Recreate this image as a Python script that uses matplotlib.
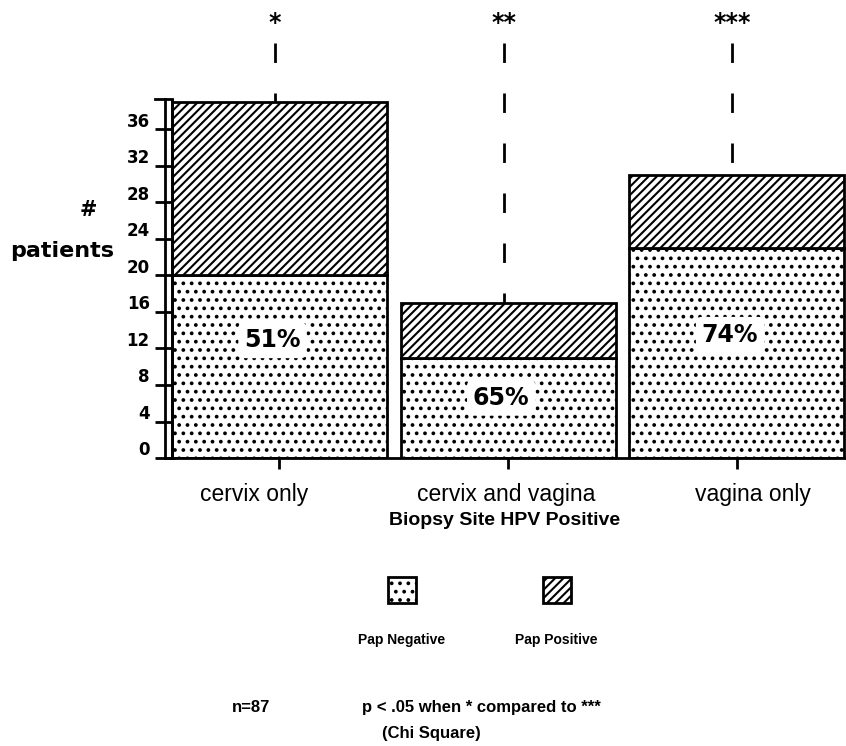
import matplotlib
matplotlib.use("Agg")
import matplotlib.pyplot as plt
from matplotlib.patches import Rectangle
from matplotlib.transforms import ScaledTranslation

# ---- data ----
sites = ["cervix only", "cervix and vagina", "vagina only"]
pap_negative = [20, 11, 23]
pap_positive = [19, 6, 8]
pct_labels = ["51%", "65%", "74%"]
stars = ["*", "**", "***"]
yticks = [0, 4, 8, 12, 16, 20, 24, 28, 32, 36]

plt.rcParams["hatch.linewidth"] = 1.5
plt.rcParams["hatch.color"] = "black"

fig = plt.figure(figsize=(8.46, 7.46), dpi=100)
ax = fig.add_axes([0.195, 0.386, 0.805, 0.481])

x = list(range(len(sites)))
w = 0.94
ax.bar(x, pap_negative, width=w, color="white", edgecolor="black",
       hatch="..", linewidth=2.0, zorder=2)
ax.bar(x, pap_positive, width=w, bottom=pap_negative, color="white",
       edgecolor="black", hatch="////", linewidth=2.0, zorder=2)

ax.set_xlim(-0.5, 2.477)
ax.set_ylim(0, 39.3)

# percentage labels inside the negative part
pct_y = [12.9, 6.6, 13.5]
for xi, lab, yy in zip(x, pct_labels, pct_y):
    ax.text(xi - 0.03, yy, lab, ha="center", va="center", fontsize=17,
            fontweight="bold", family="DejaVu Sans", zorder=4,
            bbox=dict(boxstyle="round,pad=0.25", fc="white", ec="none"))

# dashed lines from the stars down to each bar
for xi, pn, pp, s in zip(x, pap_negative, pap_positive, stars):
    top = pn + pp
    ax.plot([xi - 0.02, xi - 0.02], [45.5, top], color="black", lw=2.0,
            linestyle=(0, (7, 11)), clip_on=False, zorder=3)
    ax.text(xi - 0.02, 47.6, s, ha="center", va="center", fontsize=17,
            fontweight="bold", family="DejaVu Sans")

# axes styling: double left line, bottom baseline
for sp in ["top", "right"]:
    ax.spines[sp].set_visible(False)
ax.spines["left"].set_linewidth(2.0)
ax.spines["bottom"].set_linewidth(2.0)
ax.axvline(-0.47, color="black", lw=2.0, zorder=3)
ax.plot([-0.543, -0.47], [39.3, 39.3], color="black", lw=2.0, clip_on=False)

ax.set_yticks(yticks)
ax.set_yticklabels([str(t) for t in yticks], fontsize=12, fontweight="bold",
                   family="DejaVu Sans")
ax.tick_params(axis="y", direction="inout", length=14, width=2.0, pad=4)
off = ScaledTranslation(0, 7 / 72, fig.dpi_scale_trans)
for lab in ax.get_yticklabels():
    lab.set_transform(lab.get_transform() + off)

ax.set_xticks(x)
ax.set_xticklabels(sites, fontsize=16.5, family="Liberation Sans")
ax.tick_params(axis="x", direction="inout", length=16, width=2.0, pad=10)
# the labels in the original are not centred on their ticks
shifts = [-18, -1.5, 11.5]  # points
for lab, dx in zip(ax.get_xticklabels(), shifts):
    lab.set_transform(lab.get_transform() +
                      ScaledTranslation(dx / 72, 0, fig.dpi_scale_trans))

fig.text(0.104, 0.718, "#", ha="center", va="center", fontsize=15,
         fontweight="bold", family="DejaVu Sans")
fig.text(0.074, 0.664, "patients", ha="center", va="center", fontsize=16,
         fontweight="bold", family="DejaVu Sans")

fig.text(0.597, 0.302, "Biopsy Site HPV Positive", ha="center", va="center",
         fontsize=14, fontweight="bold", family="Liberation Sans")

# legend boxes
legend_items = [("Pap Negative", ".."), ("Pap Positive", "////")]
legend_x = [0.475, 0.658]
for (name, h), lx in zip(legend_items, legend_x):
    fig.patches.append(Rectangle((lx - 0.0165, 0.192), 0.033, 0.035,
                                 transform=fig.transFigure, facecolor="white",
                                 edgecolor="black", hatch=h, linewidth=2.0))
    fig.text(lx, 0.142, name, ha="center", va="center", fontsize=10,
             fontweight="bold", family="Liberation Sans")

fig.text(0.274, 0.051, "n=87", ha="left", va="center", fontsize=12,
         fontweight="bold", family="Liberation Sans")
fig.text(0.428, 0.051, "p < .05 when * compared to ***", ha="left",
         va="center", fontsize=12, fontweight="bold", family="Liberation Sans")
fig.text(0.451, 0.017, "(Chi Square)", ha="left", va="center", fontsize=12,
         fontweight="bold", family="Liberation Sans")

fig.savefig("out.png", dpi=100)
